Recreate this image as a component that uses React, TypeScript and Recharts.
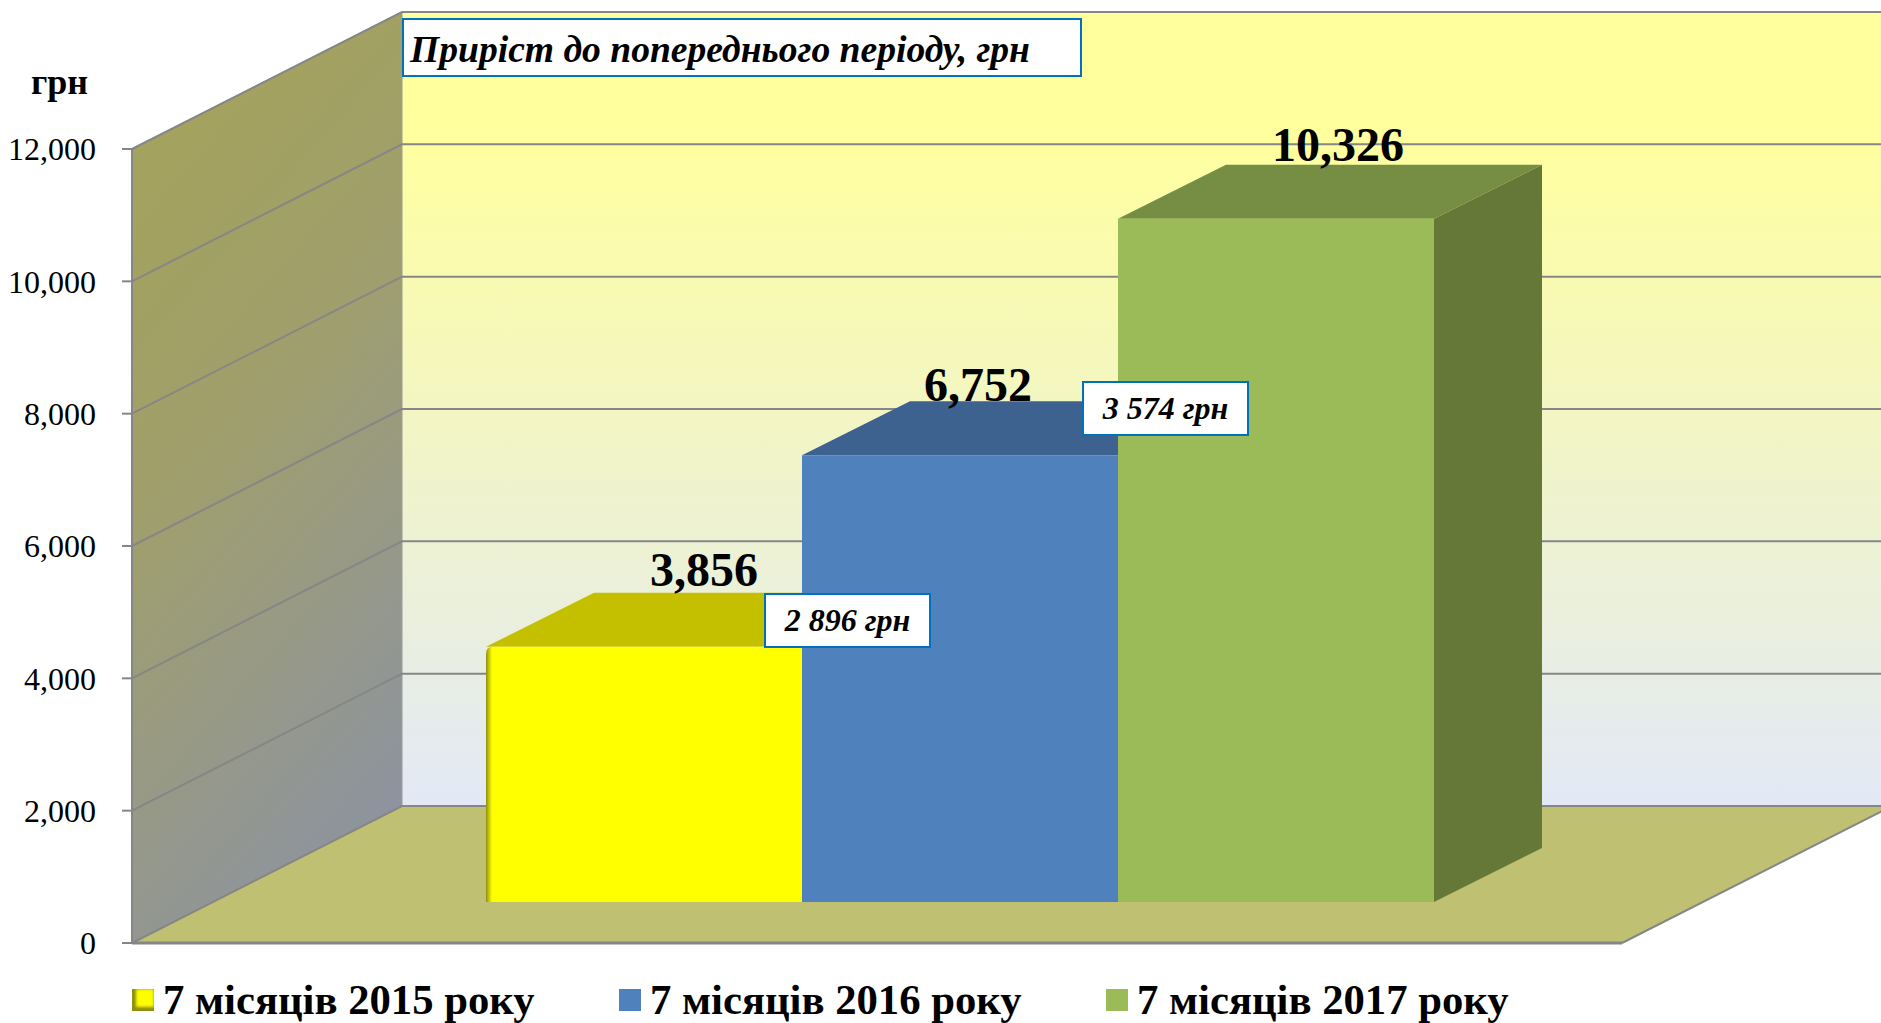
import React from 'react';
import { BarChart, Bar, XAxis, YAxis, CartesianGrid, Legend, LabelList } from 'recharts';

const categories = ['7 місяців'];
const seriesNames = ['7 місяців 2015 року', '7 місяців 2016 року', '7 місяців 2017 року'];
const values2015 = [3856];
const values2016 = [6752];
const values2017 = [10326];
const yTicks = [0, 2000, 4000, 6000, 8000, 10000, 12000];
const increases = ['2 896 грн', '3 574 грн'];

const data = categories.map((name, i) => ({
    name,
    y2015: values2015[i],
    y2016: values2016[i],
    y2017: values2017[i],
}));

const WIDTH = 1881;
const HEIGHT = 1023;
const FONT = '"Liberation Serif", serif';
const GRID = '#868686';

// plot box of the front plane
const LEFT = 132;
const RIGHT = 1622;
const TOP = 149;
const BOTTOM = 943;
const LEGEND_HEIGHT = 50;
// how far the back wall sits from the front plane
const WALL_DX = 270;
const WALL_DY = 137;
// bars stand in the middle of the floor
const BAR_DX = 83;
const BAR_DY = 41;
const BAR_DEPTH_X = 108;
const BAR_DEPTH_Y = 54;

const Walls = () => (
    <g>
        <defs>
            <linearGradient id="backWall" x1="0" y1="0" x2="0" y2="1">
                <stop offset="0" stopColor="#FFFF9E" />
                <stop offset="0.15" stopColor="#FFFF9E" />
                <stop offset="1" stopColor="#E2E9F6" />
            </linearGradient>
            <linearGradient id="sideWall" x1="0.3" y1="0.1" x2="0.6" y2="1">
                <stop offset="0" stopColor="#A3A25E" />
                <stop offset="0.35" stopColor="#A09F6C" />
                <stop offset="1" stopColor="#8D93A1" />
            </linearGradient>
            <linearGradient id="yellowBevel" x1="0" y1="0" x2="1" y2="0">
                <stop offset="0" stopColor="#8F8F10" />
                <stop offset="1" stopColor="#FFFF00" />
            </linearGradient>
        </defs>
        <polygon
            points={`${LEFT + WALL_DX},${TOP - WALL_DY} ${WIDTH},${TOP - WALL_DY} ${WIDTH},${BOTTOM - WALL_DY} ${LEFT + WALL_DX},${BOTTOM - WALL_DY}`}
            fill="url(#backWall)"
        />
        <polygon
            points={`${LEFT},${TOP} ${LEFT + WALL_DX},${TOP - WALL_DY} ${LEFT + WALL_DX},${BOTTOM - WALL_DY} ${LEFT},${BOTTOM}`}
            fill="url(#sideWall)"
            stroke="#9a9a9a"
        />
        <polygon
            points={`${LEFT},${BOTTOM} ${RIGHT},${BOTTOM} ${RIGHT + WALL_DX},${BOTTOM - WALL_DY} ${LEFT + WALL_DX},${BOTTOM - WALL_DY}`}
            fill="#C0C073"
        />
        <line x1={RIGHT} y1={BOTTOM} x2={RIGHT + WALL_DX} y2={BOTTOM - WALL_DY} stroke={GRID} strokeWidth={2} />
    </g>
);

// grid lines run along the side wall and then across the back wall
const renderGridLine = (props: any) => {
    const { x1, x2, y1, index } = props;
    return (
        <g key={`grid-${y1}`}>
            {index === 0 && <Walls />}
            <path
                d={`M${x1},${y1} L${x1 + WALL_DX},${y1 - WALL_DY} L${WIDTH},${y1 - WALL_DY}`}
                fill="none"
                stroke={GRID}
                strokeWidth={2}
            />
            {y1 === BOTTOM && <line x1={x1} y1={y1} x2={x2} y2={y1} stroke={GRID} strokeWidth={3} />}
        </g>
    );
};

const Box3D = (props: any) => {
    const { width, height, fill, topFill, sideFill, bevel } = props;
    const x = props.x + BAR_DX;
    const y = props.y - BAR_DY;
    const r = x + width;
    const b = y + height;
    return (
        <g>
            <polygon
                points={`${r},${y} ${r + BAR_DEPTH_X},${y - BAR_DEPTH_Y} ${r + BAR_DEPTH_X},${b - BAR_DEPTH_Y} ${r},${b}`}
                fill={sideFill}
            />
            <polygon
                points={`${x},${y} ${x + BAR_DEPTH_X},${y - BAR_DEPTH_Y} ${r + BAR_DEPTH_X},${y - BAR_DEPTH_Y} ${r},${y}`}
                fill={topFill}
            />
            {bevel ? (
                <g>
                    <path d={`M${x},${b} V${y + 8} Q${x},${y} ${x + 8},${y} H${r} V${b} Z`} fill={fill} />
                    <path d={`M${x},${b} V${y + 8} Q${x},${y} ${x + 6},${y} V${b} Z`} fill="url(#yellowBevel)" />
                </g>
            ) : (
                <rect x={x} y={y} width={width} height={height} fill={fill} />
            )}
        </g>
    );
};

const renderValue = (dx: number, dy: number) => (props: any) => {
    const { x, y, width, value } = props;
    return (
        <text
            x={x + width / 2 + dx}
            y={y - BAR_DY - dy}
            textAnchor="middle"
            fontFamily={FONT}
            fontWeight="bold"
            fontSize={48}
            fill="#000"
        >
            {Number(value).toLocaleString('en-US')}
        </text>
    );
};

const legendLefts = [132, 619, 1106];

const renderLegend = (props: any) => (
    <div style={{ position: 'relative', width: WIDTH, height: LEGEND_HEIGHT }}>
        {props.payload.map((item: any, i: number) => (
            <div
                key={item.value}
                style={{
                    position: 'absolute',
                    left: legendLefts[i],
                    top: 0,
                    display: 'flex',
                    alignItems: 'center',
                    whiteSpace: 'nowrap',
                    fontFamily: FONT,
                    fontWeight: 'bold',
                    fontSize: 42.7,
                    lineHeight: '50px',
                    color: '#000',
                }}
            >
                <span
                    style={{
                        display: 'inline-block',
                        width: 22,
                        height: 22,
                        marginRight: 9,
                        background: item.color,
                        boxShadow: i === 0 ? 'inset 4px 0 3px #8F8F10, inset 0 -4px 3px #8F8F10' : undefined,
                    }}
                />
                {item.value}
            </div>
        ))}
    </div>
);

const Callout = ({ left, top, width, height, fontSize, children }: any) => (
    <div
        style={{
            position: 'absolute',
            left,
            top,
            width,
            height,
            boxSizing: 'border-box',
            background: '#fff',
            border: '2px solid #0070C0',
            fontFamily: FONT,
            fontWeight: 'bold',
            fontStyle: 'italic',
            fontSize,
            color: '#000',
            display: 'flex',
            alignItems: 'center',
            justifyContent: 'center',
            whiteSpace: 'nowrap',
        }}
    >
        {children}
    </div>
);

export default function App() {
    return (
        <div style={{ position: 'absolute', left: 0, top: 0, width: WIDTH, height: HEIGHT, overflow: 'hidden', background: '#fff' }}>
            <BarChart
                width={WIDTH}
                height={HEIGHT}
                data={data}
                margin={{ top: TOP, right: WIDTH - RIGHT, left: 0, bottom: HEIGHT - BOTTOM - LEGEND_HEIGHT }}
                barGap={0}
                barCategoryGap={271}
            >
                <CartesianGrid vertical={false} horizontal={renderGridLine} />
                <XAxis dataKey="name" tick={false} tickLine={false} height={0} axisLine={false} />
                <YAxis
                    width={LEFT}
                    domain={[0, 12000]}
                    ticks={yTicks}
                    interval={0}
                    tickSize={10}
                    tickMargin={26}
                    tickFormatter={(v: number) => v.toLocaleString('en-US')}
                    tick={{ fill: '#000', fontSize: 32, fontFamily: FONT }}
                    tickLine={{ stroke: GRID, strokeWidth: 2 }}
                    axisLine={{ stroke: GRID, strokeWidth: 2 }}
                />
                <Legend
                    content={renderLegend}
                    wrapperStyle={{ position: 'absolute', left: 0, top: 975, width: WIDTH, height: LEGEND_HEIGHT, margin: 0, padding: 0 }}
                />
                <Bar
                    dataKey="y2015"
                    name={seriesNames[0]}
                    fill="#FFFF00"
                    isAnimationActive={false}
                    shape={(p: any) => <Box3D {...p} topFill="#C4C000" sideFill="#A8A800" bevel />}
                >
                    <LabelList dataKey="y2015" content={renderValue(143, 61)} />
                </Bar>
                <Bar
                    dataKey="y2016"
                    name={seriesNames[1]}
                    fill="#4F81BD"
                    isAnimationActive={false}
                    shape={(p: any) => <Box3D {...p} topFill="#3D6290" sideFill="#335277" />}
                >
                    <LabelList dataKey="y2016" content={renderValue(101, 54)} />
                </Bar>
                <Bar
                    dataKey="y2017"
                    name={seriesNames[2]}
                    fill="#9BBB59"
                    isAnimationActive={false}
                    shape={(p: any) => <Box3D {...p} topFill="#768E44" sideFill="#667837" />}
                >
                    <LabelList dataKey="y2017" content={renderValue(145, 58)} />
                </Bar>
            </BarChart>
            <div
                style={{
                    position: 'absolute',
                    left: 31,
                    top: 62,
                    fontFamily: FONT,
                    fontWeight: 'bold',
                    fontSize: 36,
                    lineHeight: '40px',
                    color: '#000',
                }}
            >
                грн
            </div>
            <Callout left={402} top={18} width={680} height={59} fontSize={37.6}>
                <span style={{ width: '100%', paddingLeft: 6, paddingTop: 4 }}>Приріст до попереднього періоду, грн</span>
            </Callout>
            <Callout left={764} top={593} width={167} height={55} fontSize={32}>{increases[0]}</Callout>
            <Callout left={1082} top={381} width={167} height={55} fontSize={32}>{increases[1]}</Callout>
        </div>
    );
}
